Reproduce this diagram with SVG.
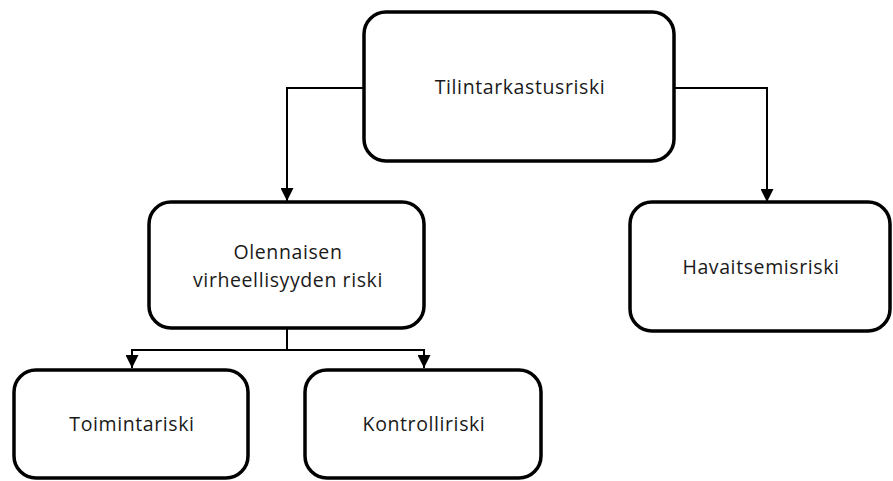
<svg xmlns="http://www.w3.org/2000/svg" width="893" height="481" viewBox="0 0 893 481">
<style>
.box{fill:#fff;stroke:#000;stroke-width:3.5}
.lbl{font-family:"Open Sans","Noto Sans",sans-serif;font-size:19.5px;letter-spacing:0.6px;fill:#1a1a1a;text-anchor:middle}
.con{fill:none;stroke:#000;stroke-width:2}
</style>
<defs>
<marker id="arr" viewBox="0 0 10 10" refX="10" refY="5" markerWidth="6.5" markerHeight="6.5" orient="auto" markerUnits="strokeWidth">
<path d="M0,0 L10,5 L0,10 Z" fill="#000"/>
</marker>
</defs>
<g id="connectors">
<path class="con" d="M364,88 H287 V201" marker-end="url(#arr)"/>
<path class="con" d="M674,88 H767 V202" marker-end="url(#arr)"/>
<path class="con" d="M287,328 V350 H132 V368" marker-end="url(#arr)"/>
<path class="con" d="M287,350 H424 V368" marker-end="url(#arr)"/>
</g>
<g id="n-tilintarkastusriski">
<rect class="box" x="364" y="12" width="310" height="149" rx="22"/>
<text class="lbl" x="520" y="94">Tilintarkastusriski</text>
</g>
<g id="n-olennaisen">
<rect class="box" x="149" y="202" width="275" height="126" rx="22"/>
<text class="lbl" x="288" y="259">Olennaisen</text>
<text class="lbl" x="288" y="287">virheellisyyden riski</text>
</g>
<g id="n-havaitsemisriski">
<rect class="box" x="630" y="202" width="260" height="129" rx="22"/>
<text class="lbl" x="761" y="274">Havaitsemisriski</text>
</g>
<g id="n-toimintariski">
<rect class="box" x="14" y="370" width="234" height="108" rx="22"/>
<text class="lbl" x="132" y="431">Toimintariski</text>
</g>
<g id="n-kontrolliriski">
<rect class="box" x="305" y="370" width="236" height="108" rx="22"/>
<text class="lbl" x="424" y="431">Kontrolliriski</text>
</g>
</svg>
